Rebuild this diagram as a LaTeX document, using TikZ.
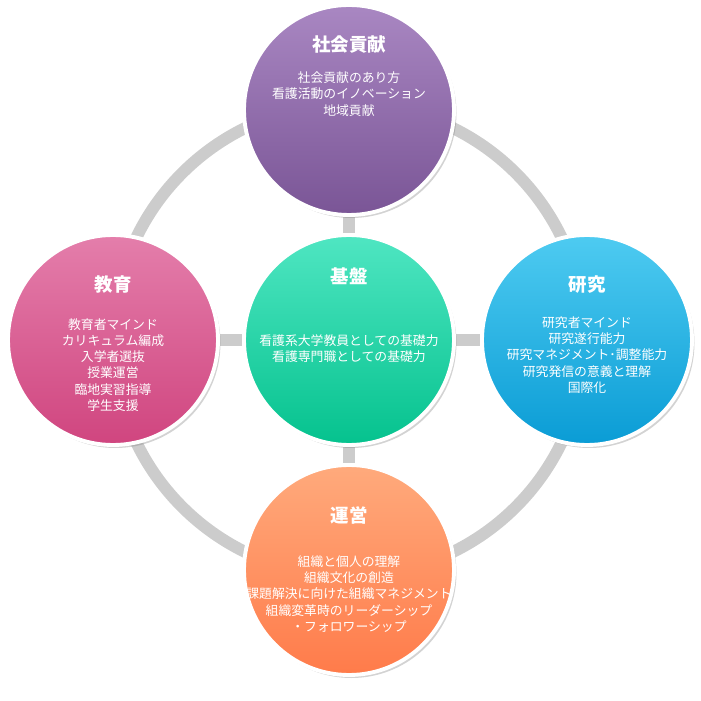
\documentclass[tikz,border=0pt]{standalone}
\usepackage{fontspec}
\newfontfamily\jpfont{Noto Sans CJK JP}
\usetikzlibrary{positioning,backgrounds,shadows}

\definecolor{purpleTop}{HTML}{A987C2}
\definecolor{purpleBot}{HTML}{7A5596}
\definecolor{pinkTop}{HTML}{E47EAB}
\definecolor{pinkBot}{HTML}{D0457F}
\definecolor{greenTop}{HTML}{4FE6C2}
\definecolor{greenBot}{HTML}{05C28E}
\definecolor{blueTop}{HTML}{4ECBF1}
\definecolor{blueBot}{HTML}{0A9CD5}
\definecolor{orangeTop}{HTML}{FFAA7C}
\definecolor{orangeBot}{HTML}{FF7B4A}

\tikzset{
  area/.style={circle, draw=white, line width=2.2pt, minimum size=4.2cm,
    drop shadow={opacity=0.35, shadow xshift=0.5mm, shadow yshift=-0.6mm}},
  title/.style={text=white, font=\jpfont\bfseries\fontsize{10.5pt}{12pt}\selectfont},
  body/.style={text=white, align=center, font=\jpfont\fontsize{7.3pt}{9.2pt}\selectfont},
  link/.style={draw=black!20, line width=6.8pt}
}

\begin{document}
\begin{tikzpicture}
\useasboundingbox (0,0) rectangle (14.02,14.02);

\node [area, top color=greenTop, bottom color=greenBot] (kiban) at (6.98,7.22) {};
\node [area, top color=purpleTop, bottom color=purpleBot] (shakai) at (6.98,11.82) {};
\node [area, top color=pinkTop, bottom color=pinkBot] (kyoiku) at (2.26,7.22) {};
\node [area, top color=blueTop, bottom color=blueBot] (kenkyu) at (11.74,7.22) {};
\node [area, top color=orangeTop, bottom color=orangeBot] (unei) at (6.98,2.62) {};

% texts
\node [title] (t1) at ([yshift=1.27cm]kiban.center) {基盤};
\node [body] (b1) at ([yshift=-0.18cm]kiban.center) {看護系大学教員としての基礎力\\看護専門職としての基礎力};

\node [title] (t2) at ([yshift=1.3cm]shakai.center) {社会貢献};
\node [body] (b2) at ([yshift=0.32cm]shakai.center) {社会貢献のあり方\\看護活動のイノベーション\\地域貢献};

\node [title] (t3) at ([yshift=1.1cm]kyoiku.center) {教育};
\node [body] (b3) at ([yshift=-0.5cm]kyoiku.center) {教育者マインド\\カリキュラム編成\\入学者選抜\\授業運営\\臨地実習指導\\学生支援};

\node [title] (t4) at ([yshift=1.1cm]kenkyu.center) {研究};
\node [body] (b4) at ([yshift=-0.3cm]kenkyu.center) {研究者マインド\\研究遂行能力\\研究マネジメント･調整能力\\研究発信の意義と理解\\国際化};

\node [title] (t5) at ([yshift=1.1cm]unei.center) {運営};
\node [body] (b5) at ([yshift=-0.48cm]unei.center) {組織と個人の理解\\組織文化の創造\\課題解決に向けた組織マネジメント\\組織変革時のリーダーシップ\\・フォロワーシップ};

% ring and links
\begin{scope}[on background layer]
  \draw [link] (kiban.center) circle (4.72cm);
  \draw [link] (kiban) -- (shakai);
  \draw [link] (kiban) -- (kyoiku);
  \draw [link] (kiban) -- (kenkyu);
  \draw [link] (kiban) -- (unei);
\end{scope}
\end{tikzpicture}
\end{document}
